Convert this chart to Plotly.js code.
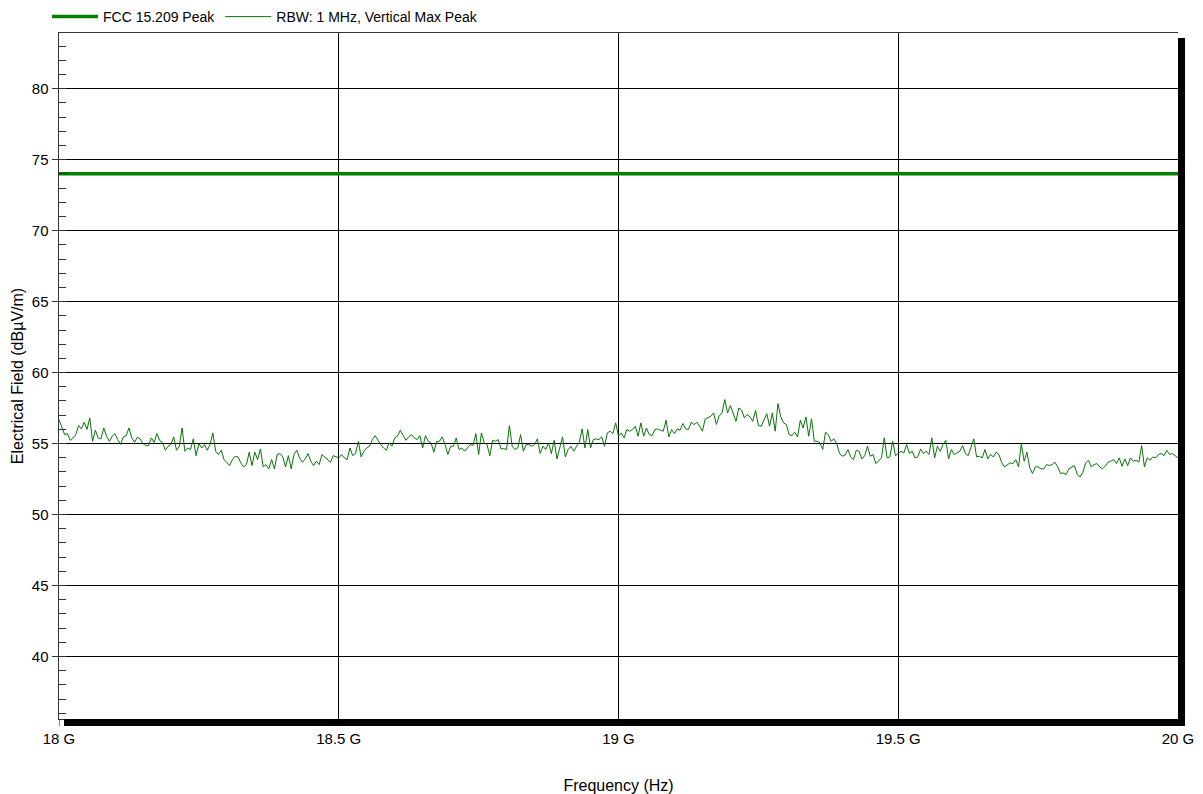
<!DOCTYPE html>
<html>
<head>
<meta charset="utf-8">
<script src="https://cdn.plot.ly/plotly-3.0.1.min.js"></script>
<style>html,body{margin:0;padding:0;background:#fff;}#chart{width:1203px;height:794px;}</style>
</head>
<body>
<div id="chart"></div>
<script>
// Sweep definition (Hz)
const sweepStartHz = 18e9;
const sweepStopHz = 20e9;

// FCC 15.209 peak limit line
const limitFreqHz = [18e9, 20e9];
const limitLevel = [74, 74];

// RBW 1 MHz, Vertical Max Peak trace (dBµV/m)
const traceLevel = [
56.69,56.22,55.63,55.70,55.23,55.40,55.63,56.27,56.03,56.50,55.99,56.81,55.16,55.94,55.40,55.33,56.10,55.52,55.16,55.52,
55.70,55.28,54.93,55.47,55.56,56.10,55.40,55.09,55.45,55.33,55.00,54.86,54.86,55.40,55.09,55.70,55.21,55.09,54.53,54.81,
54.93,55.47,54.53,54.81,56.10,54.46,54.69,54.58,55.33,54.15,55.00,54.69,54.93,54.53,54.93,55.75,54.46,54.23,54.53,53.87,
53.64,53.45,53.87,54.11,54.06,53.64,53.36,53.52,54.39,53.45,54.39,53.87,54.62,53.36,53.52,53.22,53.87,53.22,54.23,54.30,
54.06,53.36,54.15,53.22,54.23,54.53,53.99,53.69,53.92,54.30,53.76,53.45,53.76,53.52,54.23,54.06,53.87,53.69,54.15,54.06,
53.99,54.23,53.99,53.87,54.69,54.15,54.30,55.16,54.06,54.46,54.69,54.81,55.28,55.56,55.23,54.93,54.69,54.53,55.05,54.81,
55.40,55.52,55.94,55.63,55.23,55.47,55.63,55.40,55.28,55.56,54.69,55.56,55.16,55.05,54.39,55.16,55.16,55.47,54.93,54.23,
54.81,54.81,55.40,54.58,54.69,54.46,54.69,54.93,54.86,55.70,54.23,55.75,55.05,54.93,54.15,55.23,55.16,55.28,54.62,54.65,
54.58,56.27,54.81,54.58,54.69,55.63,54.46,54.93,54.93,54.81,54.93,55.33,54.30,54.81,54.58,55.05,54.30,55.23,53.92,54.69,
55.47,54.06,54.58,54.81,54.46,54.81,55.09,56.03,54.69,55.99,54.69,55.28,55.33,55.28,55.47,54.81,55.75,55.87,55.70,56.46,
55.52,55.75,55.40,55.99,55.87,55.99,56.22,55.52,56.46,55.52,56.10,55.63,55.56,55.99,56.03,55.94,55.87,56.64,55.47,55.99,
55.70,56.03,55.94,56.41,56.03,55.99,56.50,56.34,56.50,56.22,55.87,56.74,56.81,56.92,57.16,56.34,56.97,57.16,58.10,57.16,
57.68,57.16,56.57,57.51,57.35,56.81,57.04,56.88,56.57,57.35,56.27,56.22,56.64,57.11,56.22,57.16,55.87,57.82,56.88,56.46,
56.34,55.63,55.56,55.80,55.47,56.64,56.10,56.88,55.52,56.74,55.16,55.16,55.05,54.58,55.80,55.63,55.16,55.33,55.00,54.30,
54.11,54.20,54.58,54.06,53.87,54.53,54.46,53.92,54.15,54.81,54.11,54.23,53.59,53.76,53.99,55.40,53.99,54.06,55.16,54.15,
54.34,54.46,54.34,54.93,54.30,54.46,53.99,54.06,54.62,54.30,54.46,54.23,55.40,53.99,54.81,54.46,54.93,55.23,53.92,54.58,
54.23,54.34,54.46,54.86,54.30,54.15,54.69,55.33,54.06,54.11,53.99,54.58,53.92,54.23,54.06,54.39,54.23,53.64,53.36,53.52,
53.64,53.59,53.87,53.36,55.00,53.76,54.39,53.29,52.89,53.36,53.36,53.22,53.22,53.52,53.45,53.52,53.69,53.36,52.89,52.93,
52.82,53.22,53.36,53.45,52.82,52.65,52.98,53.64,53.83,53.36,53.52,53.59,53.36,53.22,53.40,53.69,53.76,53.87,53.59,53.99,
53.40,53.92,53.45,53.99,53.76,53.83,53.69,54.86,53.36,53.99,53.83,54.06,53.99,54.23,54.30,54.15,54.53,54.23,54.30,54.11,
53.99
];

// Axis ticks
const xTickVals = [18e9, 18.5e9, 19e9, 19.5e9, 20e9];
const xTickText = ['18 G', '18.5 G', '19 G', '19.5 G', '20 G'];

const step = (sweepStopHz - sweepStartHz) / (traceLevel.length - 1);
const traceFreqHz = traceLevel.map((_, i) => sweepStartHz + i * step);

const FONT = 'Liberation Sans, Arial, sans-serif';

const data = [
  {
    x: limitFreqHz, y: limitLevel, type: 'scatter', mode: 'lines',
    name: 'FCC 15.209 Peak',
    line: {color: 'rgb(0,128,0)', width: 3.5}
  },
  {
    x: traceFreqHz, y: traceLevel, type: 'scatter', mode: 'lines',
    name: 'RBW: 1 MHz, Vertical Max Peak',
    line: {color: 'rgb(10,115,10)', width: 1}
  }
];

// pixel helpers for the frame shadow (paper coordinates)
const L = 59, R = 1178, T = 33, B = 719;
const px = v => (v - L) / (R - L);
const py = v => (B - v) / (B - T);

const layout = {
  width: 1203, height: 794,
  margin: {l: L, r: 1203 - R, t: T, b: 794 - B, autoexpand: false},
  paper_bgcolor: '#fff', plot_bgcolor: '#fff',
  font: {family: FONT, size: 14, color: '#000'},
  showlegend: true,
  legend: {
    orientation: 'h', x: px(47), xanchor: 'left', y: py(17), yanchor: 'middle',
    font: {family: FONT, size: 14, color: '#000'}, bgcolor: 'rgba(0,0,0,0)',
    traceorder: 'normal', itemwidth: 46
  },
  xaxis: {
    range: [sweepStartHz, sweepStopHz],
    tickmode: 'array', tickvals: xTickVals, ticktext: xTickText,
    ticks: 'outside', ticklen: 6, tickcolor: '#888', tickwidth: 1,
    tickfont: {family: FONT, size: 15, color: '#000'},
    showgrid: true, gridcolor: '#000', gridwidth: 1,
    showline: true, linecolor: '#333', linewidth: 1, mirror: true,
    zeroline: false,
    title: {text: 'Frequency (Hz)', font: {family: FONT, size: 16, color: '#000'}, standoff: 34},
    automargin: false
  },
  yaxis: {
    range: [35.6, 83.92],
    tickmode: 'linear', tick0: 0, dtick: 5,
    ticks: 'outside', ticklen: 6, tickcolor: '#333', tickwidth: 1,
    tickfont: {family: FONT, size: 15, color: '#000'},
    showgrid: true, gridcolor: '#000', gridwidth: 1,
    showline: true, linecolor: '#333', linewidth: 1.5,
    zeroline: false,
    minor: {dtick: 1, tick0: 0, ticks: 'inside', ticklen: 7, tickcolor: '#333', tickwidth: 1, showgrid: false},
    title: {text: 'Electrical Field (dBµV/m)', font: {family: FONT, size: 16, color: '#000'}, standoff: 4},
    automargin: false
  },
  shapes: [
    {type: 'rect', xref: 'paper', yref: 'paper', x0: px(1178), x1: px(1185), y0: py(38), y1: py(726),
     fillcolor: '#000', line: {width: 0}, layer: 'above'},
    {type: 'rect', xref: 'paper', yref: 'paper', x0: px(64), x1: px(1185), y0: py(719), y1: py(726),
     fillcolor: '#000', line: {width: 0}, layer: 'above'}
  ]
};

Plotly.newPlot('chart', data, layout, {displayModeBar: false, staticPlot: true});
</script>
</body>
</html>
